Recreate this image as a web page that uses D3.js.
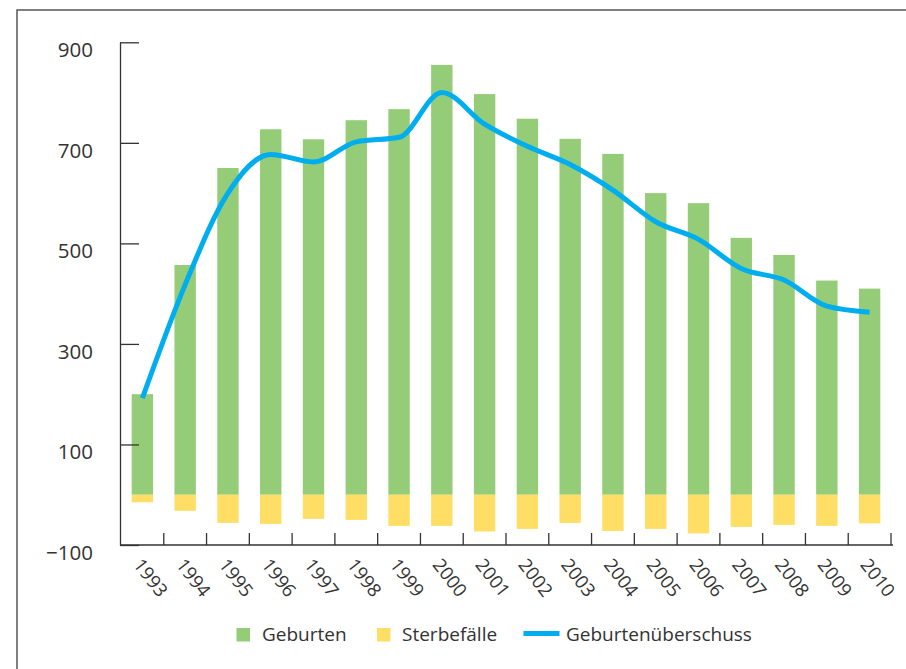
<!DOCTYPE html>
<html>
<head>
<meta charset="utf-8">
<script src="https://cdn.jsdelivr.net/npm/d3@7"></script>
<style>
    body { margin: 0; background: #fff; }
    svg { display: block; font-family: "Open Sans", sans-serif; }
</style>
</head>
<body>
<svg id="chart" width="906" height="669"></svg>
<script>
const years = ['1993', '1994', '1995', '1996', '1997', '1998', '1999', '2000', '2001',
    '2002', '2003', '2004', '2005', '2006', '2007', '2008', '2009', '2010'];
const geburten = [200, 457, 650, 727, 707, 745, 767, 855, 797, 748, 708, 678, 600, 580, 511, 477, 426, 410];
const sterbefaelle = [-15, -32, -56, -58, -48, -50, -62, -62, -73, -68, -56, -72, -68, -77, -64, -60, -62, -57];
const ueberschuss = [192, 418, 600, 677, 662, 702, 711, 800, 737, 693, 657, 606, 543, 508, 450, 427, 375, 363];
const yTicks = [-100, 100, 300, 500, 700, 900];
const legendLabels = ['Geburten', 'Sterbefälle', 'Geburtenüberschuss'];

const colors = { geburten: '#95cc78', sterbe: '#ffde66', line: '#00aeef', axis: '#333' };

const svg = d3.select('#chart');

// frame
svg.append('path')
    .attr('d', 'M17,669V10H906')
    .attr('fill', 'none')
    .attr('stroke', '#555')
    .attr('stroke-width', 1.5);

const x = d3.scaleBand()
    .domain(years)
    .range([121, 891])
    .paddingInner(0.5)
    .paddingOuter(0.25);

const y = d3.scaleLinear()
    .domain([-100, 900])
    .range([545, 42.3]);

const bars = svg.append('g');

bars.selectAll('.geb')
    .data(years)
    .join('rect')
    .attr('class', 'geb')
    .attr('x', d => x(d))
    .attr('width', x.bandwidth())
    .attr('y', (d, i) => y(geburten[i]))
    .attr('height', (d, i) => y(0) - y(geburten[i]))
    .attr('fill', colors.geburten);

bars.selectAll('.ster')
    .data(years)
    .join('rect')
    .attr('class', 'ster')
    .attr('x', d => x(d))
    .attr('width', x.bandwidth())
    .attr('y', y(0))
    .attr('height', (d, i) => y(sterbefaelle[i]) - y(0))
    .attr('fill', colors.sterbe);

// surplus line
const line = d3.line()
    .x((d, i) => x(years[i]) + x.bandwidth() / 2)
    .y(d => y(d))
    .curve(d3.curveMonotoneX);

svg.append('path')
    .datum(ueberschuss)
    .attr('d', line)
    .attr('fill', 'none')
    .attr('stroke', colors.line)
    .attr('stroke-width', 5);

// y axis
const yAxis = svg.append('g')
    .attr('transform', 'translate(120,0)')
    .call(d3.axisLeft(y)
        .tickValues(yTicks)
        .tickSize(-19)
        .tickSizeOuter(0)
        .tickPadding(27)
        .tickFormat(d => d < 0 ? '\u2212' + Math.abs(d) : d))
    .attr('font-family', null)
    .attr('font-size', 20.5);

yAxis.selectAll('text')
    .attr('dy', '0.7em')
    .attr('fill', colors.axis);

// x axis
const xAxis = svg.append('g')
    .attr('transform', 'translate(0,545)')
    .call(d3.axisBottom(x).tickSize(0).tickSizeOuter(0))
    .attr('font-family', null)
    .attr('font-size', 18.5);

xAxis.select('.domain').attr('d', 'M120,0H893');

xAxis.selectAll('text')
    .attr('x', 0)
    .attr('y', 0)
    .attr('dy', 0)
    .attr('text-anchor', 'start')
    .attr('transform', 'translate(-10,20) rotate(52)')
    .attr('fill', colors.axis);

// boundary ticks between years
xAxis.selectAll('.bound')
    .data(years)
    .join('line')
    .attr('class', 'bound')
    .attr('x1', d => x(d) + x.bandwidth() / 2 + x.step() / 2)
    .attr('x2', d => x(d) + x.bandwidth() / 2 + x.step() / 2)
    .attr('y1', 0)
    .attr('y2', -12)
    .attr('stroke', colors.axis);

svg.selectAll('.domain, .tick line, .bound')
    .attr('stroke', colors.axis)
    .attr('stroke-width', 1.3);

// legend
const legend = svg.append('g').attr('font-size', 19).attr('fill', colors.axis);
const legendX = [236.5, 377, 523.5];
const legendTextX = [262, 402, 566];

legendLabels.forEach((label, i) => {
    if (i < 2) {
        legend.append('rect')
            .attr('x', legendX[i])
            .attr('y', 628)
            .attr('width', 13.5)
            .attr('height', 13.5)
            .attr('fill', i === 0 ? colors.geburten : colors.sterbe);
    } else {
        legend.append('line')
            .attr('x1', legendX[i])
            .attr('x2', legendX[i] + 36)
            .attr('y1', 633.5)
            .attr('y2', 633.5)
            .attr('stroke', colors.line)
            .attr('stroke-width', 5);
    }
    legend.append('text')
        .attr('x', legendTextX[i])
        .attr('y', 641)
        .text(label);
});
</script>
</body>
</html>
